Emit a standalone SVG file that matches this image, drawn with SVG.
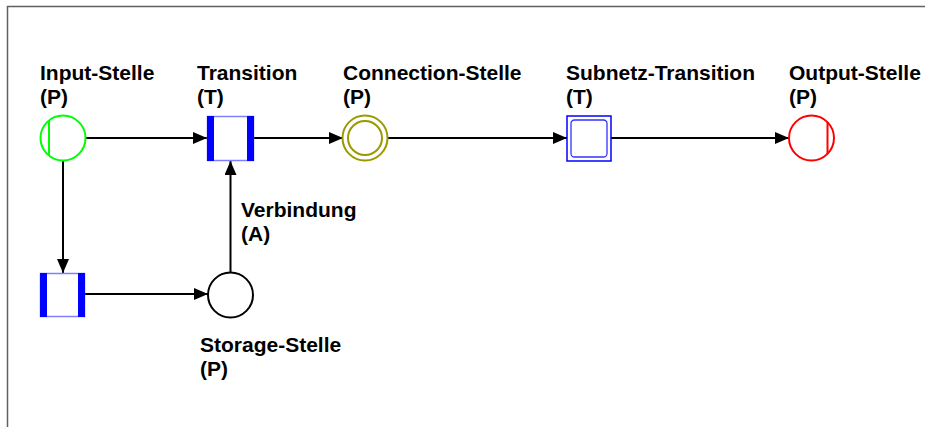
<svg xmlns="http://www.w3.org/2000/svg" width="925" height="427" viewBox="0 0 925 427">
<defs>
<style>
.lbl{font-family:"Liberation Sans",Arial,sans-serif;font-weight:bold;font-size:21px;fill:#000}
.edge{stroke:#000;stroke-width:2;fill:none}
.place{fill:#fff;stroke-width:2}
.bar{fill:#0000ff}
.tbox{fill:#fff;stroke:#8080ff;stroke-width:1.5}
</style>
<marker id="arr" viewBox="0 0 14 12" refX="14" refY="6" markerWidth="14" markerHeight="12" markerUnits="userSpaceOnUse" orient="auto">
<path d="M0,0 L14,6 L0,12 Z" fill="#000"/>
</marker>
</defs>
<rect x="0" y="0" width="925" height="427" fill="#fff"/>
<path d="M7.5,427 V6.5 H925" fill="none" stroke="#606060" stroke-width="1.5"/>
<g id="connectors">
<line class="edge" x1="85" y1="138" x2="207" y2="138" marker-end="url(#arr)"/>
<line class="edge" x1="254" y1="138" x2="343" y2="138" marker-end="url(#arr)"/>
<line class="edge" x1="388" y1="138" x2="567" y2="138" marker-end="url(#arr)"/>
<line class="edge" x1="611" y1="138" x2="789" y2="138" marker-end="url(#arr)"/>
<line class="edge" x1="63" y1="160" x2="63" y2="273" marker-end="url(#arr)"/>
<line class="edge" x1="85" y1="294" x2="208" y2="294" marker-end="url(#arr)"/>
<line class="edge" x1="230.5" y1="272" x2="230.5" y2="161" marker-end="url(#arr)"/>
<text class="lbl" x="241" y="217">Verbindung</text>
<text class="lbl" x="241" y="241">(A)</text>
</g>
<g id="input-stelle">
<circle class="place" cx="63" cy="138" r="22.5" stroke="#00ff00"/>
<line x1="49" y1="121" x2="49" y2="155" stroke="#00ff00" stroke-width="2"/>
<text class="lbl" x="40" y="80">Input-Stelle</text>
<text class="lbl" x="40" y="104">(P)</text>
</g>
<g id="transition">
<rect class="tbox" x="207.5" y="116.5" width="46" height="44"/>
<rect class="bar" x="207" y="116" width="7" height="45"/>
<rect class="bar" x="247" y="116" width="7" height="45"/>
<text class="lbl" x="197" y="80">Transition</text>
<text class="lbl" x="197" y="104">(T)</text>
</g>
<g id="connection-stelle">
<circle class="place" cx="365" cy="138" r="22.5" stroke="#999900"/>
<circle cx="365" cy="138" r="17" fill="none" stroke="#999900" stroke-width="2"/>
<text class="lbl" x="343" y="80">Connection-Stelle</text>
<text class="lbl" x="343" y="104">(P)</text>
</g>
<g id="subnetz-transition">
<rect x="567" y="116" width="44" height="45" fill="#fff" stroke="#0000ff" stroke-width="1.5"/>
<rect x="571" y="120" width="36" height="37" rx="3.5" fill="none" stroke="#3333ff" stroke-width="1.3"/>
<text class="lbl" x="566" y="80">Subnetz-Transition</text>
<text class="lbl" x="566" y="104">(T)</text>
</g>
<g id="output-stelle">
<circle class="place" cx="811.5" cy="138" r="22.5" stroke="#ff0000"/>
<line x1="827.5" y1="122" x2="827.5" y2="154" stroke="#ff0000" stroke-width="2"/>
<text class="lbl" x="789" y="80">Output-Stelle</text>
<text class="lbl" x="789" y="104">(P)</text>
</g>
<g id="lower-transition">
<rect class="tbox" x="40.5" y="273.5" width="44" height="43"/>
<rect class="bar" x="40" y="273" width="7" height="44"/>
<rect class="bar" x="78" y="273" width="7" height="44"/>
</g>
<g id="storage-stelle">
<circle class="place" cx="230.5" cy="295" r="22.5" stroke="#000"/>
<text class="lbl" x="200" y="352">Storage-Stelle</text>
<text class="lbl" x="200" y="376">(P)</text>
</g>
</svg>
